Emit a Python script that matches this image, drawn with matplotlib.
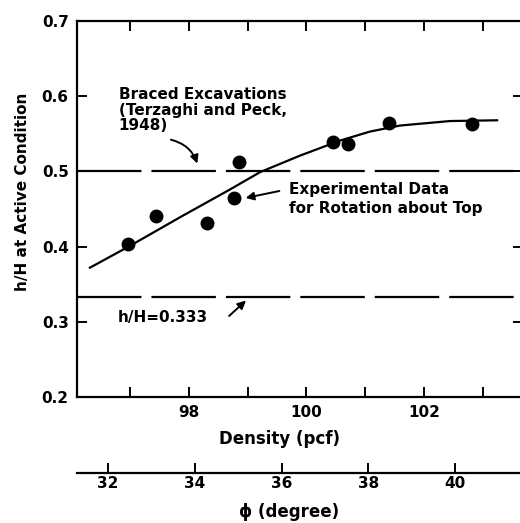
import matplotlib
matplotlib.use("Agg")
import matplotlib.pyplot as plt
import numpy as np

# measured points (density in pcf, h/H)
dens_pts = [96.97, 97.44, 98.31, 98.76, 98.86, 100.45, 100.71, 101.41, 102.81]
ratio_pts = [0.403, 0.441, 0.432, 0.464, 0.513, 0.539, 0.537, 0.564, 0.563]

# hand drawn trend line
curve_dens = [96.32, 97.0, 97.85, 98.7, 99.21, 99.89, 100.57, 101.08, 101.59, 102.44, 103.24]
curve_ratio = [0.372, 0.401, 0.439, 0.476, 0.499, 0.521, 0.541, 0.553, 0.561, 0.567, 0.568]

braced = 0.5
rankine = 0.333

dens_ticks = [98, 100, 102]
dens_minor = [97, 99, 101, 103]
phi_ticks = [32, 34, 36, 38, 40]
y_ticks = [0.2, 0.3, 0.4, 0.5, 0.6, 0.7]

plt.rcParams['font.family'] = 'DejaVu Sans'
plt.rcParams['font.weight'] = 'bold'

fig = plt.figure(figsize=(5.2, 5.23), dpi=100)
ax = fig.add_axes([0.1481, 0.2409, 0.8577, 0.7189])

ax.plot(curve_dens, curve_ratio, color='black', lw=1.6)
ax.plot(dens_pts, ratio_pts, 'o', color='black', ms=9)

lw = 1.6
ax.axhline(braced, color='black', lw=lw, dashes=(29, 4.5))
ax.axhline(rankine, color='black', lw=lw, dashes=(29, 4.5))

ax.set_xlim(96.10, 103.68)
ax.set_ylim(0.2, 0.7)
ax.set_xticks(dens_ticks)
ax.set_xticks(dens_minor, minor=True)
ax.set_xticklabels([str(t) for t in dens_ticks])
ax.set_yticks(y_ticks)
ax.set_yticklabels(["%.1f" % t for t in y_ticks])
ax.tick_params(which='both', direction='in', length=7, width=1.4,
               top=True, right=True, labelsize=11, pad=6)
for s in ax.spines.values():
    s.set_linewidth(1.6)

ax.set_xlabel("Density (pcf)", fontsize=12, fontweight='bold')
ax.xaxis.set_label_coords((279 - 77) / 446, -0.088)
ax.set_ylabel("h/H at Active Condition", fontsize=11, fontweight='bold')
ax.yaxis.set_label_coords(-0.105, 0.545)

ax.text(96.81, 0.612, "Braced Excavations\n(Terzaghi and Peck,\n1948)",
        fontsize=11, fontweight='bold', va='top', ha='left', linespacing=1.05)
ax.annotate("", xy=(98.16, 0.507), xytext=(97.65, 0.543),
            arrowprops=dict(arrowstyle='-|>', color='black', lw=1.4,
                            connectionstyle='arc3,rad=-0.3', mutation_scale=12))

ax.text(99.70, 0.486, "Experimental Data\nfor Rotation about Top",
        fontsize=11, fontweight='bold', va='top', ha='left', linespacing=1.3)
ax.annotate("", xy=(98.92, 0.464), xytext=(99.585, 0.4747),
            arrowprops=dict(arrowstyle='-|>', color='black', lw=1.4,
                            mutation_scale=12))

ax.text(96.80, 0.3053, "h/H=0.333", fontsize=11, fontweight='bold',
        va='center', ha='left')
ax.annotate("", xy=(99.007, 0.3307), xytext=(98.65, 0.3053),
            arrowprops=dict(arrowstyle='-|>', color='black', lw=1.4,
                            mutation_scale=12))

# friction angle scale below
ax2 = fig.add_axes([0.1481, 0.0956, 0.8577, 0.0001])
ax2.set_xlim(31.29, 41.56)
ax2.set_yticks([])
for side in ['top', 'left', 'right']:
    ax2.spines[side].set_visible(False)
ax2.spines['bottom'].set_linewidth(1.6)
ax2.set_xticks(phi_ticks)
ax2.tick_params(direction='in', length=7, width=1.4, labelsize=11, pad=2)
fig.text(289 / 520, 1 - 512 / 523, "\u03d5 (degree)", fontsize=12,
         fontweight='bold', ha='center', va='center')

fig.savefig("out.png", dpi=100)
